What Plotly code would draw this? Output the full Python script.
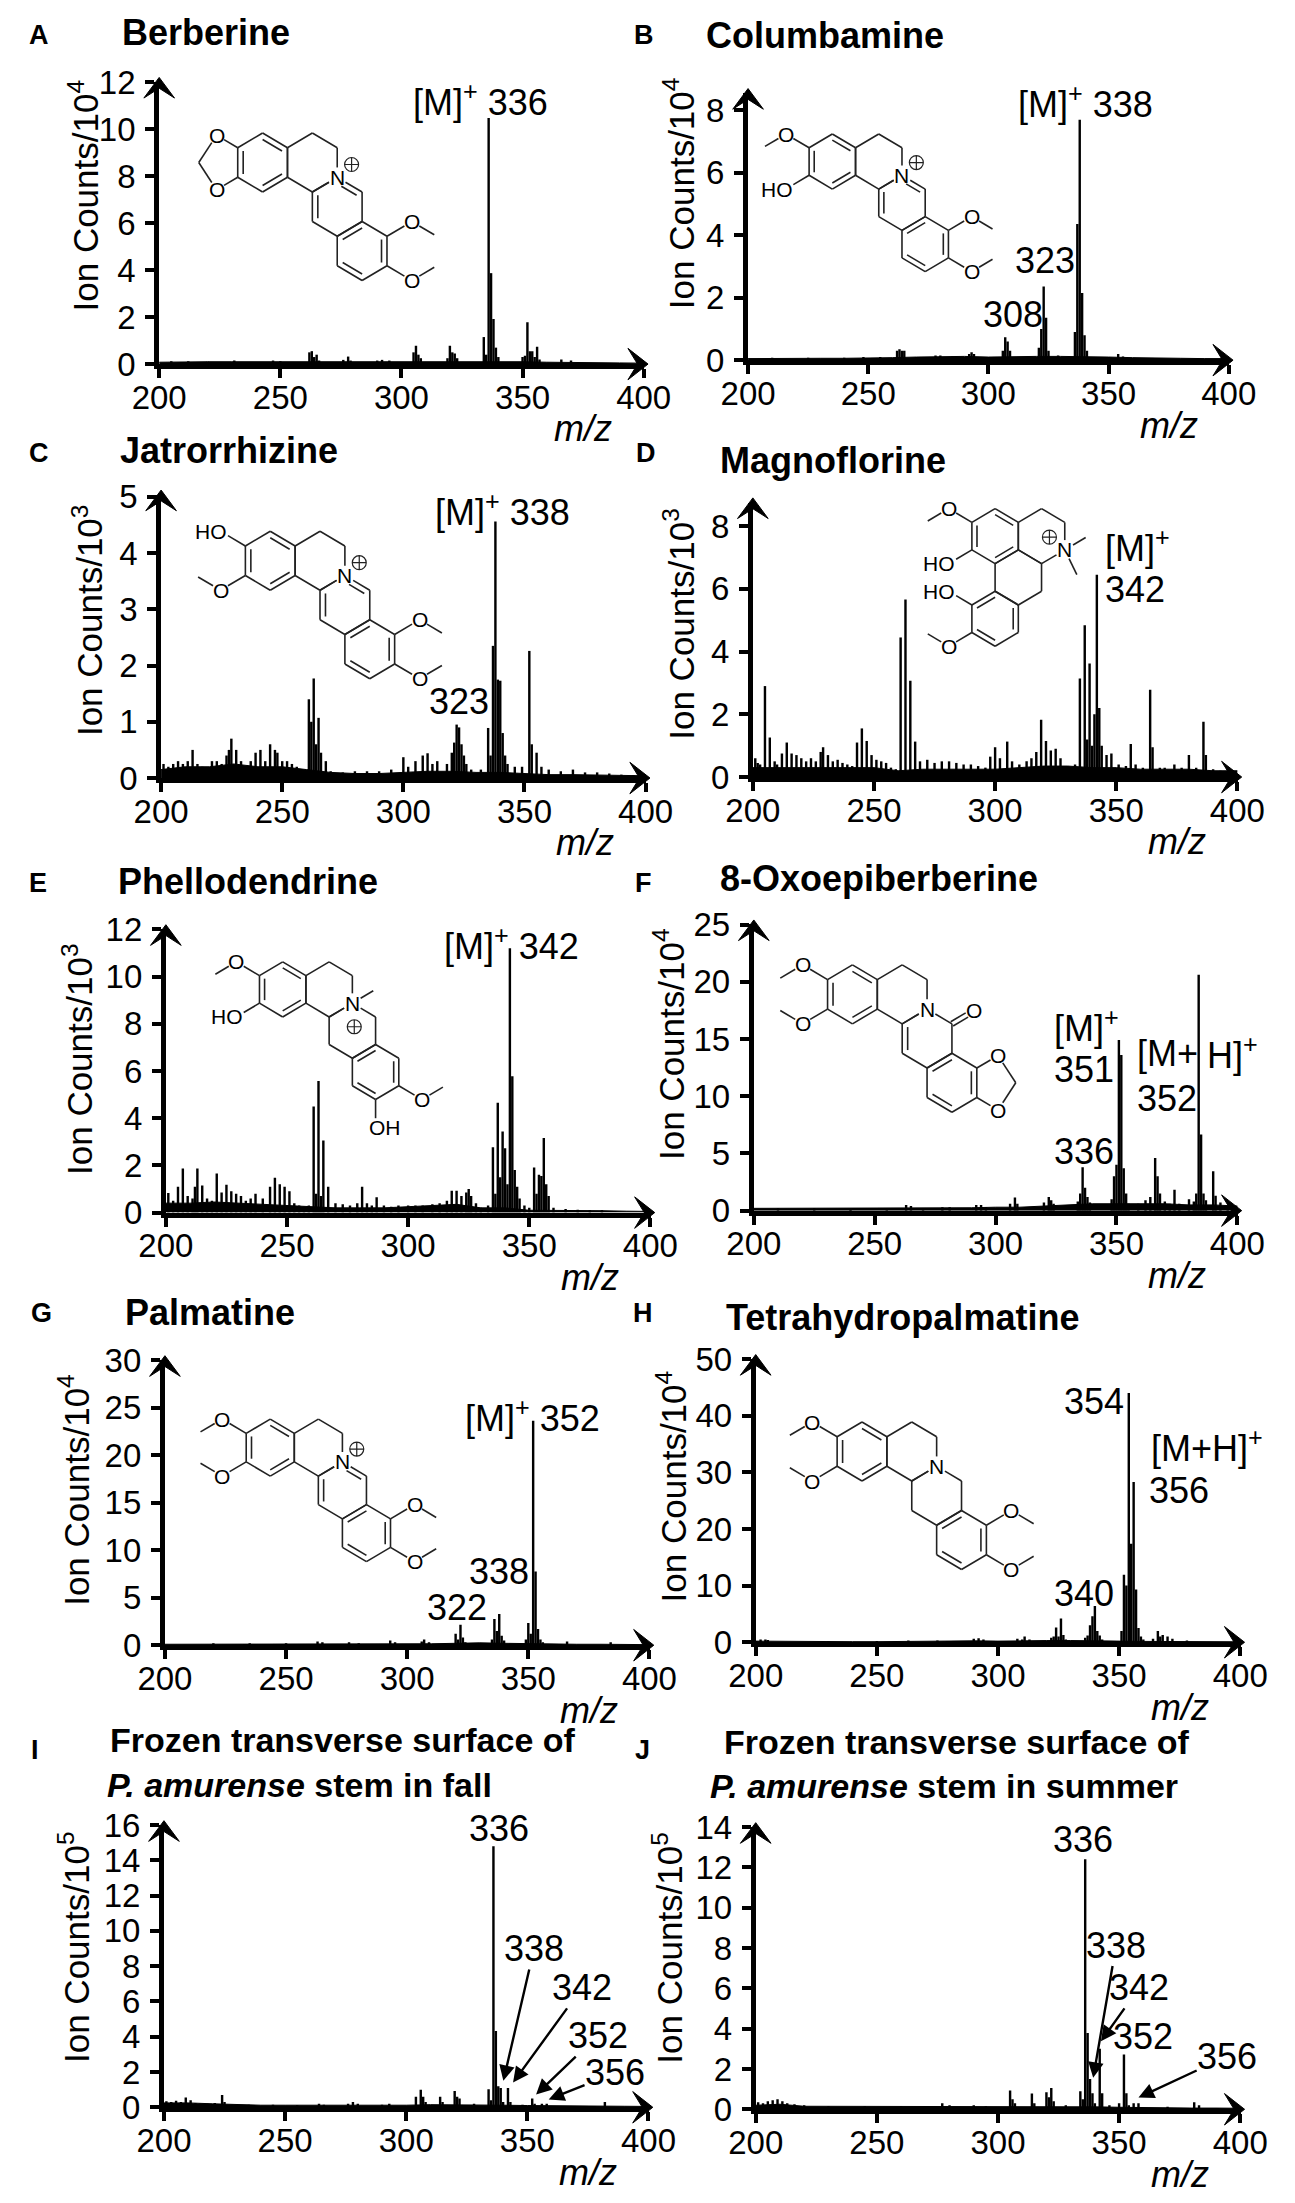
import math
import plotly.graph_objects as go

W, H = 1295, 2203
FONT = "Liberation Sans, Arial, Helvetica, sans-serif"

# ---------------- data ----------------
BASE_MZ = [200, 210, 220, 230, 240, 250, 260, 270, 280, 290, 300,
           310, 320, 330, 340, 350, 360, 370, 380, 390, 400]

# (m/z, intensity) pairs, intensity in the units of each panel's y axis
A_PEAKS = [(205, 0.12), (212, 0.12), (220, 0.1), (231, 0.15), (247, 0.15), (250, 0.12),
           (262, 0.5), (263, 0.55), (264, 0.3), (265, 0.4), (266, 0.15),
           (276, 0.18), (278, 0.32), (279, 0.15), (290, 0.15), (292, 0.18), (295, 0.15),
           (305, 0.5), (306, 0.78), (307, 0.4), (308, 0.25),
           (319, 0.25), (320, 0.78), (321, 0.5), (322, 0.45), (323, 0.25),
           (334, 1.15), (335, 0.4), (336, 10.47), (337, 3.87), (338, 1.92), (339, 0.7), (340, 0.3),
           (350, 0.3), (351, 0.35), (352, 1.78), (353, 0.55), (354, 0.55), (355, 0.3), (356, 0.74),
           (357, 0.2), (366, 0.2), (370, 0.15)]
A_BASE = [0.08, 0.1, 0.1, 0.1, 0.1, 0.1, 0.12, 0.12, 0.1, 0.12, 0.1,
          0.12, 0.12, 0.12, 0.1, 0.1, 0.08, 0.06, 0.05, 0.05, 0.04]

B_PEAKS = [(210, 0.08), (225, 0.08), (240, 0.08), (248, 0.1), (255, 0.1),
           (262, 0.3), (263, 0.35), (264, 0.3), (265, 0.3), (278, 0.15), (280, 0.15), (285, 0.12),
           (292, 0.2), (293, 0.25), (294, 0.2), (306, 0.3), (307, 0.73), (308, 0.6), (309, 0.3),
           (321, 0.4), (322, 1.0), (323, 2.36), (324, 1.36), (325, 0.3), (329, 0.15),
           (336, 0.9), (337, 4.36), (338, 7.7), (339, 2.15), (340, 0.8), (341, 0.3),
           (354, 0.2), (356, 0.12)]
B_BASE = [0.05, 0.06, 0.06, 0.06, 0.06, 0.06, 0.08, 0.1, 0.12, 0.12, 0.1,
          0.12, 0.12, 0.12, 0.12, 0.1, 0.08, 0.06, 0.06, 0.05, 0.05]

C_PEAKS = [(201, 0.25), (203, 0.2), (205, 0.25), (207, 0.3), (209, 0.25), (211, 0.3), (213, 0.5),
           (215, 0.25), (217, 0.2), (219, 0.15), (221, 0.3), (223, 0.3), (225, 0.25), (227, 0.4),
           (228, 0.5), (229, 0.7), (231, 0.5), (233, 0.3), (235, 0.2), (237, 0.3), (239, 0.45),
           (241, 0.5), (243, 0.3), (245, 0.6), (247, 0.5), (248, 0.45), (250, 0.3), (252, 0.3),
           (254, 0.25), (256, 0.2), (258, 0.15), (261, 1.4), (262, 1.0), (263, 1.77), (264, 0.6),
           (265, 1.07), (266, 0.45), (268, 0.3), (270, 0.12), (275, 0.1), (280, 0.12), (285, 0.12),
           (290, 0.12), (295, 0.15), (300, 0.37), (302, 0.2), (305, 0.3), (308, 0.4), (310, 0.44),
           (312, 0.25), (314, 0.3), (318, 0.25), (320, 0.45), (321, 0.63), (322, 0.95), (323, 0.9),
           (324, 0.6), (325, 0.4), (326, 0.25), (328, 0.15), (332, 0.15), (335, 0.89), (336, 0.4),
           (337, 2.35), (338, 4.56), (339, 1.75), (340, 1.73), (341, 0.8), (342, 0.4), (343, 0.25),
           (346, 0.2), (349, 0.2), (352, 2.26), (353, 0.6), (355, 0.45), (357, 0.2), (360, 0.15),
           (365, 0.12), (370, 0.15), (375, 0.1), (380, 0.1), (385, 0.08), (390, 0.06), (395, 0.05)]
C_BASE = [0.15, 0.2, 0.2, 0.25, 0.2, 0.2, 0.15, 0.1, 0.08, 0.08, 0.1,
          0.12, 0.12, 0.1, 0.1, 0.08, 0.06, 0.06, 0.05, 0.05, 0.04]

D_PEAKS = [(201, 0.6), (202, 0.45), (203, 0.4), (205, 2.9), (207, 1.26), (209, 0.5), (210, 0.4),
           (212, 0.75), (214, 1.1), (216, 0.75), (218, 0.7), (220, 0.6), (222, 0.5), (224, 0.6),
           (226, 0.5), (228, 0.8), (229, 0.95), (231, 0.7), (233, 0.5), (235, 0.55), (237, 0.45),
           (239, 0.4), (241, 0.35), (243, 1.1), (245, 1.55), (247, 1.15), (249, 0.7), (251, 0.55),
           (253, 0.5), (255, 0.45), (257, 0.3), (259, 0.25), (261, 4.45), (263, 5.66), (265, 3.07),
           (267, 1.13), (269, 0.5), (272, 0.55), (275, 0.45), (278, 0.5), (281, 0.5), (284, 0.45),
           (287, 0.4), (290, 0.4), (293, 0.35), (296, 0.3), (298, 0.65), (300, 0.95), (302, 0.6),
           (305, 1.13), (307, 0.5), (310, 0.4), (313, 0.5), (315, 0.6), (317, 0.8), (319, 1.83),
           (321, 1.15), (323, 0.85), (325, 0.9), (327, 0.6), (330, 0.3), (333, 0.4), (335, 3.14),
           (337, 4.84), (338, 1.2), (339, 3.62), (340, 1.0), (341, 2.0), (342, 6.45), (343, 2.2),
           (344, 1.0), (346, 0.7), (348, 0.75), (351, 0.4), (354, 0.35), (356, 1.05), (358, 0.4),
           (361, 0.3), (364, 2.78), (365, 0.95), (368, 0.3), (370, 0.3), (374, 0.4), (377, 0.3),
           (380, 0.7), (383, 0.3), (386, 1.76), (387, 0.7), (390, 0.25), (393, 0.2), (397, 0.2)]
D_BASE = [0.3, 0.3, 0.3, 0.3, 0.3, 0.3, 0.2, 0.25, 0.25, 0.25, 0.25,
          0.3, 0.35, 0.35, 0.3, 0.3, 0.25, 0.25, 0.25, 0.2, 0.2]

E_PEAKS = [(201, 0.83), (203, 0.5), (205, 1.1), (207, 1.87), (209, 0.7), (211, 0.6), (212, 1.1),
           (213, 1.87), (215, 1.15), (217, 0.6), (219, 0.5), (221, 1.66), (223, 0.85), (225, 1.18),
           (227, 0.9), (229, 0.8), (231, 0.7), (233, 0.5), (235, 0.6), (237, 0.8), (240, 0.6),
           (243, 1.1), (245, 1.48), (247, 1.2), (249, 1.1), (251, 0.9), (253, 0.4), (255, 0.3),
           (257, 0.25), (259, 0.3), (261, 4.5), (262, 0.8), (263, 5.58), (264, 0.7), (265, 3.05),
           (267, 1.1), (270, 0.4), (273, 0.35), (276, 0.3), (279, 0.4), (281, 1.1), (283, 0.4),
           (285, 0.3), (287, 0.65), (290, 0.3), (293, 0.25), (296, 0.3), (300, 0.3), (303, 0.3),
           (306, 0.3), (310, 0.35), (313, 0.4), (316, 0.5), (318, 0.93), (320, 0.93), (322, 0.7),
           (324, 0.85), (325, 1.0), (326, 0.7), (328, 0.4), (330, 0.2), (333, 0.3), (335, 2.77),
           (336, 0.8), (337, 4.65), (338, 1.5), (339, 3.44), (340, 2.73), (341, 1.2), (342, 11.2),
           (343, 5.78), (344, 1.8), (345, 1.1), (346, 0.6), (348, 0.3), (350, 0.2), (352, 1.91),
           (353, 0.8), (354, 1.6), (355, 1.55), (356, 3.16), (357, 1.2), (358, 0.7), (360, 0.2),
           (365, 0.15), (370, 0.12), (375, 0.1), (380, 0.1)]
E_BASE = [0.4, 0.4, 0.45, 0.4, 0.35, 0.3, 0.25, 0.2, 0.2, 0.2, 0.25,
          0.3, 0.35, 0.2, 0.2, 0.1, 0.1, 0.08, 0.08, 0.06, 0.05]

F_PEAKS = [(210, 0.2), (225, 0.2), (240, 0.15), (255, 0.2), (263, 0.5), (265, 0.4), (270, 0.2),
           (278, 0.3), (281, 0.3), (292, 0.5), (294, 0.5), (296, 0.3), (306, 0.6), (308, 1.14),
           (309, 0.6), (320, 0.7), (322, 1.2), (323, 0.9), (324, 0.6), (334, 0.8), (335, 1.5),
           (336, 3.8), (337, 2.0), (338, 1.2), (339, 0.7), (348, 1.0), (349, 3.0), (350, 4.0),
           (351, 14.9), (352, 13.6), (353, 3.7), (354, 1.5), (355, 0.6), (359, 0.6), (362, 0.9),
           (364, 1.2), (366, 4.6), (367, 3.0), (368, 1.5), (370, 0.8), (372, 0.6), (374, 1.83),
           (376, 0.6), (380, 1.0), (382, 0.8), (383, 1.5), (384, 20.6), (385, 6.66), (386, 1.5),
           (387, 0.9), (390, 3.43), (391, 1.3), (393, 0.7), (396, 0.4)]
F_BASE = [0.2, 0.2, 0.2, 0.2, 0.2, 0.2, 0.2, 0.25, 0.25, 0.25, 0.3,
          0.3, 0.4, 0.5, 0.6, 0.6, 0.6, 0.6, 0.5, 0.5, 0.4]

G_PEAKS = [(220, 0.2), (235, 0.2), (250, 0.2), (263, 0.4), (265, 0.3), (276, 0.3), (280, 0.2),
           (293, 0.5), (295, 0.3), (306, 0.4), (307, 0.6), (309, 0.3), (320, 1.2), (321, 0.6),
           (322, 2.14), (323, 0.8), (324, 0.3), (335, 0.6), (336, 2.76), (337, 1.5), (338, 3.28),
           (339, 1.0), (340, 0.5), (349, 0.6), (350, 2.34), (351, 1.2), (352, 23.6), (353, 7.76),
           (354, 1.7), (355, 0.6), (356, 0.3), (366, 0.4), (384, 0.3)]
G_BASE = [0.1, 0.1, 0.1, 0.1, 0.1, 0.1, 0.15, 0.15, 0.15, 0.15, 0.15,
          0.15, 0.2, 0.25, 0.2, 0.15, 0.1, 0.1, 0.1, 0.08, 0.06]

H_PEAKS = [(202, 0.5), (204, 0.5), (205, 0.4), (230, 0.2), (250, 0.2), (263, 0.3), (275, 0.3),
           (290, 0.6), (292, 0.7), (294, 0.5), (308, 0.6), (310, 0.5), (311, 1.0), (313, 0.5),
           (322, 0.8), (323, 1.0), (324, 2.6), (325, 1.0), (326, 4.2), (327, 1.3), (328, 0.5),
           (336, 0.8), (337, 1.2), (338, 3.0), (339, 4.6), (340, 6.4), (341, 2.0), (342, 1.2),
           (343, 0.5), (351, 2.0), (352, 11.9), (353, 10.0), (354, 44.0), (355, 17.4), (356, 28.3),
           (357, 9.3), (358, 2.5), (359, 1.0), (360, 0.5), (364, 0.6), (366, 2.0), (367, 1.0),
           (368, 1.3), (370, 1.0), (372, 0.6), (378, 0.3)]
H_BASE = [0.2, 0.15, 0.1, 0.1, 0.1, 0.1, 0.15, 0.15, 0.2, 0.25, 0.2,
          0.3, 0.3, 0.3, 0.2, 0.2, 0.15, 0.1, 0.1, 0.1, 0.08]

I_PEAKS = [(201, 0.35), (203, 0.3), (205, 0.37), (207, 0.3), (209, 0.56), (211, 0.4), (213, 0.25),
           (215, 0.2), (218, 0.2), (221, 0.25), (224, 0.7), (225, 0.3), (228, 0.15), (235, 0.15),
           (245, 0.15), (255, 0.12), (264, 0.2), (266, 0.15), (276, 0.2), (278, 0.3), (280, 0.2),
           (290, 0.15), (293, 0.2), (304, 0.6), (306, 1.0), (307, 0.6), (308, 0.3), (314, 0.6),
           (315, 0.3), (320, 0.93), (321, 0.6), (322, 0.5), (328, 0.2), (334, 1.02), (335, 0.4),
           (336, 14.8), (337, 4.33), (338, 1.2), (339, 1.1), (340, 0.3), (342, 1.1), (343, 0.3),
           (348, 0.15), (352, 0.5), (353, 0.2), (356, 0.2), (358, 0.2), (382, 0.3)]
I_BASE = [0.25, 0.25, 0.2, 0.15, 0.12, 0.12, 0.12, 0.12, 0.1, 0.12, 0.12,
          0.15, 0.15, 0.15, 0.12, 0.1, 0.08, 0.08, 0.06, 0.06, 0.05]

J_PEAKS = [(201, 0.35), (203, 0.3), (205, 0.4), (207, 0.45), (209, 0.5), (211, 0.4), (213, 0.3),
           (216, 0.25), (220, 0.2), (230, 0.15), (245, 0.15), (260, 0.15), (270, 0.15), (277, 0.3),
           (280, 0.2), (290, 0.2), (295, 0.15), (305, 0.93), (306, 0.5), (307, 0.3), (314, 0.78),
           (315, 0.3), (320, 0.85), (321, 0.6), (322, 1.06), (323, 0.4), (328, 0.2), (334, 0.9),
           (335, 0.5), (336, 12.4), (337, 3.78), (338, 1.5), (339, 0.8), (340, 0.3), (342, 3.0),
           (343, 0.8), (346, 0.2), (350, 0.3), (352, 2.72), (353, 0.8), (354, 0.2), (356, 0.3),
           (358, 0.3), (370, 0.12), (381, 0.35), (383, 0.2)]
J_BASE = [0.2, 0.25, 0.15, 0.15, 0.12, 0.12, 0.12, 0.12, 0.12, 0.15, 0.15,
          0.12, 0.15, 0.15, 0.12, 0.1, 0.08, 0.06, 0.06, 0.06, 0.05]

PEAKS = [A_PEAKS, B_PEAKS, C_PEAKS, D_PEAKS, E_PEAKS, F_PEAKS, G_PEAKS, H_PEAKS, I_PEAKS, J_PEAKS]
BASES = [A_BASE, B_BASE, C_BASE, D_BASE, E_BASE, F_BASE, G_BASE, H_BASE, I_BASE, J_BASE]

LETTERS = ["A", "B", "C", "D", "E", "F", "G", "H", "I", "J"]
TITLES = [["Berberine"], ["Columbamine"], ["Jatrorrhizine"], ["Magnoflorine"], ["Phellodendrine"],
          ["8-Oxoepiberberine"], ["Palmatine"], ["Tetrahydropalmatine"],
          ["Frozen transverse surface of", "<i>P. amurense</i> stem in fall"],
          ["Frozen transverse surface of", "<i>P. amurense</i> stem in summer"]]
EXPONENT = [4, 4, 3, 3, 3, 4, 4, 4, 5, 5]
YTICK_TOP = [12, 8, 5, 8, 12, 25, 30, 50, 16, 14]
YTICK_STEP = [2, 2, 1, 2, 2, 5, 5, 10, 2, 2]
XTICKS = [200, 250, 300, 350, 400]

# labels of panels I and J: (label m/z, label intensity, text, arrow head or None)
I_LABELS = [(338.5, 15.8, "336", None), (352.8, 9.0, "338", (340.1, 1.5)),
            (372.7, 6.8, "342", (344.1, 1.4)), (379.0, 4.07, "352", (353.6, 0.72)),
            (386.2, 1.95, "356", (358.8, 0.45))]
J_LABELS = [(335.3, 13.4, "336", None), (348.8, 8.15, "338", (339.3, 1.56)),
            (358.4, 6.05, "342", (342.5, 3.37)), (360.0, 3.6, "352", None),
            (394.6, 2.63, "356", (358.0, 0.58))]

# ---------------- page geometry (pixels) ----------------
# x of m/z 200, x of m/z 400, y of zero, px per y unit, tip of y arrow (data units)
GEOM = [(137, 643, 352, 23.9, 12.2), (752, 1254, 348, 31.75, 8.7),
        (139, 645, 773, 57.2, 5.12), (757, 1263, 772, 31.9, 8.9),
        (144, 650, 1215, 24.0, 12.2), (758, 1263, 1213, 11.64, 25.4),
        (143, 649, 1655, 9.67, 30.45), (760, 1266, 1652, 5.76, 50.8),
        (142, 648, 2125, 17.94, 16.25), (760, 1266, 2127, 20.5, 14.22)]
XEND = 400.2     # end of the drawn x axis line
XTIP = 401.8     # tip of the x arrow
TITLE_POS = [[(97, 15)], [(707, 18)], [(95, 440)], [(722, 450)], [(93, 878)], [(722, 875)],
             [(100, 1317)], [(728, 1322)], [(85, 1751), (81, 1797)], [(726, 1753), (711, 1798)]]
TITLE_SIZE = [36, 36, 36, 36, 36, 36, 36, 36, 34, 34]
LETTER_POS = [(0, 17), (632, 17), (0, 442), (634, 442), (0, 880), (633, 880),
              (2, 1317), (631, 1317), (2, 1762), (633, 1762)]
YTITLE_POS = [(58, 181), (680, 178), (62, 612), (680, 616), (52, 1059), (670, 1044),
              (48, 1497), (672, 1493), (48, 1962), (668, 1963)]

fig = go.Figure()
layout = dict(width=W, height=H, margin=dict(l=0, r=0, t=0, b=0),
              paper_bgcolor="white", plot_bgcolor="rgba(0,0,0,0)",
              showlegend=False, barmode="overlay")
annotations = []


def note(x, y, text, size=36, xanchor="center", xref="x11", yref="y11", angle=0):
    annotations.append(dict(x=x, y=y, xref=xref, yref=yref, text=text, showarrow=False,
                            xanchor=xanchor, yanchor="middle", textangle=angle, borderpad=0,
                            font=dict(family=FONT, size=size, color="black")))


head_x, head_y = [], []   # arrow heads of the axes, drawn in page pixels

for i in range(10):
    n = "" if i == 0 else str(i + 1)
    x200, x400, y0, unit, ytip = GEOM[i]
    pxu = (x400 - x200) / 200
    xend = x200 + (XEND - 200) * pxu
    ytop = max(YTICK_TOP[i] + 0.01, ytip - 5 / unit)
    layout["xaxis" + n] = dict(
        domain=[x200 / W, xend / W], range=[200, XEND], anchor="y" + n,
        tickvals=XTICKS, ticks="outside", ticklen=9, tickwidth=4, tickcolor="black",
        ticklabelstandoff=-9,
        showline=True, linewidth=5, linecolor="black", showgrid=False, zeroline=False,
        tickfont=dict(family=FONT, size=33, color="black"), fixedrange=True)
    layout["yaxis" + n] = dict(
        domain=[1 - y0 / H, 1 - (y0 - ytop * unit) / H], range=[0, ytop], anchor="x" + n,
        tickvals=list(range(0, YTICK_TOP[i] + 1, YTICK_STEP[i])),
        ticks="outside", ticklen=9, tickwidth=4, tickcolor="black", ticklabelstandoff=3,
        showline=True, linewidth=5, linecolor="black", showgrid=False, zeroline=False,
        tickfont=dict(family=FONT, size=33, color="black"), fixedrange=True)

    mz, inten = zip(*PEAKS[i])
    fig.add_trace(go.Scatter(x=BASE_MZ, y=BASES[i], mode="lines", fill="tozeroy",
                             line=dict(color="black", width=1), fillcolor="black",
                             xaxis="x" + n, yaxis="y" + n, hoverinfo="skip"))
    fig.add_trace(go.Bar(x=mz, y=inten, width=1.0, marker=dict(color="black", line=dict(width=0)),
                         xaxis="x" + n, yaxis="y" + n))

    # stealth arrow heads at the ends of both axes
    tx, ty = x200 + (XTIP - 200) * pxu, y0
    head_x += [tx, tx - 21, tx - 11, tx - 21, tx, None]
    head_y += [ty, ty - 16, ty, ty + 16, ty, None]
    tx, ty = x200, y0 - ytip * unit
    head_x += [tx, tx - 16, tx, tx + 16, tx, None]
    head_y += [ty, ty + 21, ty + 11, ty + 21, ty, None]

    for (tx, ty), line_text in zip(TITLE_POS[i], TITLES[i]):
        note(tx, ty, "<b>" + line_text + "</b>", size=TITLE_SIZE[i], xanchor="left")
    lx, ly = LETTER_POS[i]
    note(lx, ly, "<b>" + LETTERS[i] + "</b>", size=27, xanchor="left")
    yx, yy = YTITLE_POS[i]
    note(yx, yy, "Ion Counts/10<sup>%d</sup>" % EXPONENT[i], size=35, angle=-90)
    # m/z axis name
    note(x200 + (375 - 200) * pxu, y0 + 66, "<i>m/z</i>", size=36)

# peak labels (pixel positions)
SUP = "<sup>+</sup>"
PEAK_NOTES = [("[M]" + SUP + " 336", 473, 83, "center"),
              ("[M]" + SUP + " 338", 1104, 85, "center"), ("323", 1062, 247, "center"),
              ("308", 1029, 302, "center"),
              ("[M]" + SUP + " 338", 496, 500, "center"), ("323", 450, 695, "center"),
              ("[M]" + SUP, 1124, 537, "left"), ("342", 1124, 581, "left"),
              ("[M]" + SUP + " 342", 505, 942, "center"),
              ("[M]" + SUP, 1070, 1025, "left"), ("351", 1070, 1069, "left"),
              ("[M+", 1157, 1053, "left"), ("H]" + SUP, 1230, 1053, "left"),
              ("352", 1157, 1099, "left"), ("336", 1070, 1153, "left"),
              ("[M]" + SUP + " 352", 527, 1422, "center"), ("338", 492, 1580, "center"),
              ("322", 448, 1617, "center"),
              ("354", 1113, 1407, "center"), ("[M+H]" + SUP, 1172, 1452, "left"),
              ("356", 1170, 1498, "left"), ("340", 1103, 1602, "center")]
for text, x, y, anc in PEAK_NOTES:
    note(x, y, text, size=36, xanchor=anc)

for ax_n, labels in [("9", I_LABELS), ("10", J_LABELS)]:
    for x, y, t, head in labels:
        if head is None:
            note(x, y, t, size=36, xref="x" + ax_n, yref="y" + ax_n)
        else:
            annotations.append(dict(x=head[0], y=head[1], ax=x, ay=y,
                                    xref="x" + ax_n, yref="y" + ax_n,
                                    axref="x" + ax_n, ayref="y" + ax_n, text=t, showarrow=True,
                                    arrowhead=2, arrowsize=1.3, arrowwidth=2.4,
                                    arrowcolor="black", standoff=0, borderpad=0,
                                    font=dict(family=FONT, size=36, color="black")))

# ---------------- chemical structures (drawn in page pixels) ----------------
SQ = math.sqrt(3) / 2
RAD = [(0, -1), (SQ, -0.5), (SQ, 0.5), (0, 1), (-SQ, 0.5), (-SQ, -0.5)]
seg_x, seg_y = [], []
plus_x, plus_y = [], []


def hexv(c, s):
    return [(c[0] + s * rx, c[1] + s * ry) for rx, ry in RAD]


def line(p, q, gp=0, gq=0):
    dx, dy = q[0] - p[0], q[1] - p[1]
    L = math.hypot(dx, dy)
    ux, uy = dx / L, dy / L
    seg_x.extend([p[0] + ux * gp, q[0] - ux * gq, None])
    seg_y.extend([p[1] + uy * gp, q[1] - uy * gq, None])


def ring(v, c, doubles=(), gaps=None):
    gaps = gaps or {}
    for k in range(6):
        line(v[k], v[(k + 1) % 6], gaps.get(k, 0), gaps.get((k + 1) % 6, 0))
    for k in doubles:
        a, b = v[k], v[(k + 1) % 6]
        a2 = (a[0] + (c[0] - a[0]) * 0.22, a[1] + (c[1] - a[1]) * 0.22)
        b2 = (b[0] + (c[0] - b[0]) * 0.22, b[1] + (c[1] - b[1]) * 0.22)
        line(a2, b2, gaps.get(k, 0) * 0.5, gaps.get((k + 1) % 6, 0) * 0.5)


def atom(p, text, anchor="center"):
    x = p[0] + (8 if anchor == "right" else -8 if anchor == "left" else 0)
    note(x, p[1], text, size=21, xanchor=anchor)


def subs(v, s, items):
    for k, kind in items:
        rx, ry = RAD[k]
        o = (v[k][0] + rx * s, v[k][1] + ry * s)
        line(v[k], o, 0, 9)
        if kind == "OMe":
            line(o, (o[0] + rx * s * 0.9, o[1] - ry * s * 0.9), 9, 0)
            atom(o, "O")
        elif kind == "HO":
            atom(o, "HO", "right")
        else:
            atom(o, "OH", "left")


def dioxole(v, s, k1, k2, side):
    o1 = (v[k1][0] + RAD[k1][0] * s * 0.85, v[k1][1] + RAD[k1][1] * s * 0.85)
    o2 = (v[k2][0] + RAD[k2][0] * s * 0.85, v[k2][1] + RAD[k2][1] * s * 0.85)
    ch2 = ((o1[0] + o2[0]) / 2 + side * 0.62 * s, (o1[1] + o2[1]) / 2)
    for k, o in [(k1, o1), (k2, o2)]:
        line(v[k], o, 0, 9)
        line(o, ch2, 9, 0)
        atom(o, "O")


def proto(cA, s, a_subs, d_subs, kind="aromatic"):
    w = SQ * s
    cB = (cA[0] + 2 * w, cA[1])
    cC = (cB[0] + w, cB[1] + 1.5 * s)
    cD = (cC[0] + w, cC[1] + 1.5 * s)
    A, B, C, D = hexv(cA, s), hexv(cB, s), hexv(cC, s), hexv(cD, s)
    ring(A, cA, (0, 2, 4))
    ring(B, cB, (), {2: 10})
    cdb = {"aromatic": (0, 4), "oxo": (4,), "tetra": (), "nme": ()}[kind]
    ring(C, cC, cdb, {0: 10})
    ring(D, cD, (5, 1, 3))
    N = B[2]
    atom(N, "N")
    if kind == "aromatic":
        plus_x.append(N[0] + 15)
        plus_y.append(N[1] - 13)
    if kind == "nme":
        line(N, (N[0] + w * 0.9, N[1] - s * 0.45), 10, 0)
        plus_x.append(N[0] + 2)
        plus_y.append(N[1] + 24)
    if kind == "oxo":
        c8 = C[1]
        o = (c8[0] + RAD[1][0] * s * 0.9, c8[1] + RAD[1][1] * s * 0.9)
        for off in (-2.5, 2.5):
            line((c8[0] + off * 0.5, c8[1] + off * SQ), (o[0] + off * 0.5, o[1] + off * SQ), 0, 9)
        atom(o, "O")
    if a_subs == "dioxole":
        dioxole(A, s, 5, 4, -1)
    else:
        subs(A, s, a_subs)
    if d_subs == "dioxole":
        dioxole(D, s, 1, 2, 1)
    else:
        subs(D, s, d_subs)


def aporphine(cA, s):
    w = SQ * s
    cB = (cA[0] + 2 * w, cA[1])
    cC = (cA[0] + w, cA[1] + 1.5 * s)
    cD = (cA[0], cA[1] + 3 * s)
    A, B, C, D = hexv(cA, s), hexv(cB, s), hexv(cC, s), hexv(cD, s)
    ring(A, cA, (0, 2, 4))
    ring(B, cB, (), {2: 10})
    ring(C, cC, ())
    ring(D, cD, (1, 3, 5))
    N = B[2]
    atom(N, "N")
    line(N, (N[0] + w * 0.9, N[1] - s * 0.45), 10, 0)
    line(N, (N[0] + 0.45 * s, N[1] + 0.9 * s), 10, 0)
    plus_x.append(N[0] - 16)
    plus_y.append(N[1] - 13)
    subs(A, s, [(5, "OMe"), (4, "HO")])
    subs(D, s, [(5, "HO"), (4, "OMe")])


OMe2 = [(5, "OMe"), (4, "OMe")]
DOMe2 = [(1, "OMe"), (2, "OMe")]
proto((245, 147), 30, "dioxole", DOMe2)                                  # Berberine
proto((840, 146), 28, [(5, "OMe"), (4, "HO")], DOMe2)                    # Columbamine
proto((253, 552), 30, [(5, "HO"), (4, "OMe")], DOMe2)                    # Jatrorrhizine
aporphine((1010, 527), 28)                                               # Magnoflorine
proto((266, 988), 28, [(5, "OMe"), (4, "HO")], [(2, "OMe"), (3, "OH")], "nme")  # Phellodendrine
proto((861, 993), 30, OMe2, "dioxole", "oxo")                            # 8-Oxoepiberberine
proto((253, 1454), 29, OMe2, DOMe2)                                      # Palmatine
proto((871, 1458), 30, OMe2, DOMe2, "tetra")                             # Tetrahydropalmatine

fig.add_trace(go.Scatter(x=seg_x, y=seg_y, mode="lines", line=dict(color="#222", width=1.6),
                         xaxis="x11", yaxis="y11", hoverinfo="skip"))
fig.add_trace(go.Scatter(x=plus_x, y=plus_y, mode="markers", xaxis="x11", yaxis="y11",
                         marker=dict(symbol="circle-cross-open", size=14, color="#222",
                                     line=dict(width=1.2)), hoverinfo="skip"))
fig.add_trace(go.Scatter(x=head_x, y=head_y, mode="lines", fill="toself", fillcolor="black",
                         line=dict(color="black", width=1), xaxis="x11", yaxis="y11",
                         hoverinfo="skip"))

layout["xaxis11"] = dict(domain=[0, 1], range=[0, W], visible=False, anchor="y11", fixedrange=True)
layout["yaxis11"] = dict(domain=[0, 1], range=[H, 0], visible=False, anchor="x11", fixedrange=True)
layout["annotations"] = annotations
fig.update_layout(**layout)

fig.write_html("out.html", config={"displayModeBar": False},
               post_script="document.body.style.margin='0';")
